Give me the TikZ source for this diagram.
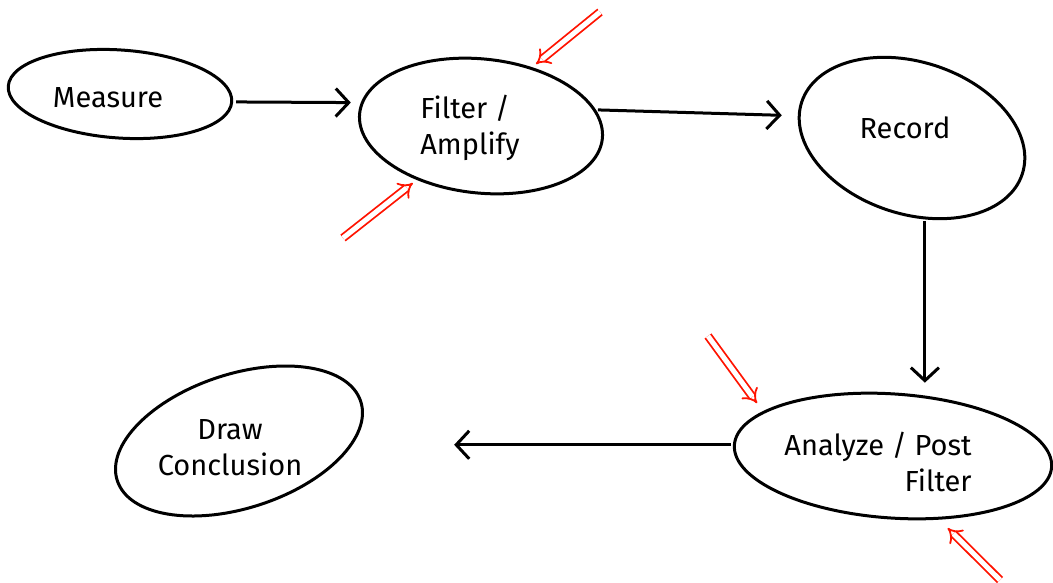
\documentclass[tikz,border=0pt]{standalone}
\usepackage{fontspec}
\setmainfont{Fira Sans}
\usetikzlibrary{shapes.geometric,arrows.meta}
\tikzset{
  bubble/.style={draw, ellipse, line width=3pt, inner sep=0pt},
  label/.style={font=\fontsize{29}{36}\selectfont, align=left},
  flow/.style={line width=3pt, -{Straight Barb[length=13pt,width=28pt,line width=3pt]}},
  hint/.style={red!85!orange, double, double distance=5pt, line width=1.8pt, -{Implies[scale=1.5]}}
}
\begin{document}
\begin{tikzpicture}[x=1pt,y=-1pt]
\useasboundingbox (0,0) rectangle (1053,582);
% ellipses
\node[bubble, minimum width=224pt, minimum height=88pt, rotate=-4] (meas) at (120,94) {};
\node[bubble, minimum width=244pt, minimum height=134pt, rotate=-6] (filt) at (481,126) {};
\node[bubble, minimum width=232pt, minimum height=152pt, rotate=-18] (rec) at (912,138) {};
\node[bubble, minimum width=318pt, minimum height=124pt, rotate=-4] (ana) at (893,456) {};
\node[bubble, minimum width=256pt, minimum height=134pt, rotate=18] (concl) at (239,441) {};
% texts
\node[label] (tmeas) at (108,98) {Measure};
\node[label] (tfilt) at (470,128) {Filter /\\Amplify};
\node[label] (trec) at (905,128) {Record};
\node[label, align=right] (tana) at (878,462) {Analyze / Post\\Filter};
\node[label, align=center] (tconcl) at (230,448) {Draw\\Conclusion};
% flow connectors
\draw[flow, shorten <=3pt, shorten >=10pt] (meas.east) -- (filt.175);
\draw[flow, shorten <=2pt, shorten >=16pt] (filt.14) -- (rec.187);
\draw[flow, shorten <=2pt, shorten >=10pt] (rec.-63) -- (rec.-63 |- ana.north);
\draw[flow, shorten <=2pt, shorten >=92pt] (ana.west) -- (concl.east |- ana.west);
% red hints
\coordinate (h1) at (600,12);
\coordinate (h2) at (343,238);
\coordinate (h3) at (708,336);
\coordinate (h4) at (1000,580);
\draw[hint, shorten >=5pt] (h1) -- (filt.55);
\draw[hint, shorten >=5pt] (h2) -- (filt.226);
\draw[hint, shorten >=10pt] (h3) -- (ana.165);
\draw[hint, shorten >=12pt] (h4) -- (ana.-50);
\end{tikzpicture}
\end{document}
